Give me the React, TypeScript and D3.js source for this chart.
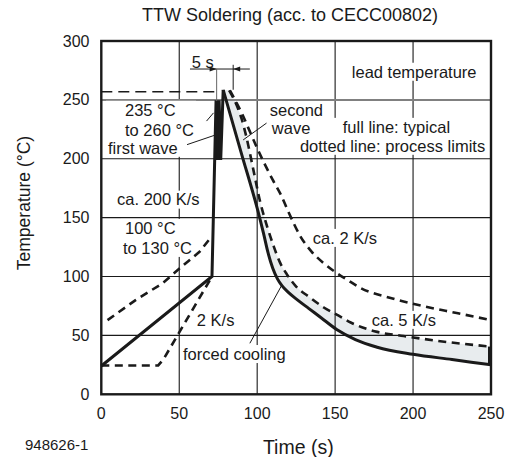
import { useEffect, useRef } from 'react';
import * as d3 from 'd3';

const W = 512;
const H = 457;
const FONT = "'Liberation Sans', Arial, Helvetica, sans-serif";
const INK = '#1a1a1a';

const xTicks = [0, 50, 100, 150, 200, 250];
const yTicks = [0, 50, 100, 150, 200, 250, 300];

// full line: typical profile
const typicalTime = [0, 71, 73.6, 75.6, 76.6, 78.2, 90, 100, 104, 107, 110, 113, 116, 120, 126, 133, 141, 151, 163, 177, 200, 225, 250];
const typicalTemp = [24, 100, 248.5, 248.5, 199, 258.5, 204, 158, 137, 120, 107, 98, 92, 86.5, 80, 73, 65, 55, 46.5, 40, 34, 29.5, 25];
const PEAK_INDEX = 5;
const FIRST_WAVE = [2, 3, 4]; // top-left, top-right, bottom of the first wave

// dotted lines: process limits
const minPreheatTime = [0, 36.5, 40, 71];
const minPreheatTemp = [24.5, 24.5, 30, 100];
const maxPreheatTime = [4, 22, 39, 53, 63, 69];
const maxPreheatTemp = [63, 80, 94, 110, 121, 131];

const minCoolTime = [82, 87, 90, 93, 97.5, 102, 106.5, 110.5, 114.6, 119, 125, 133, 143, 152, 160, 177, 194, 215, 250];
const minCoolTemp = [258, 245, 234, 219, 191, 163, 142, 126, 112, 102, 91.5, 83, 73.5, 67, 61, 53, 49.5, 45.5, 40.5];
const maxCoolTime = [82.5, 90, 96, 100, 105, 110, 115, 120, 128, 135, 143, 151, 158, 166, 185, 206, 228, 250];
const maxCoolTemp = [258, 239, 221, 209, 195, 182, 170, 155, 133.5, 121, 111, 103, 97, 90.5, 82, 75, 69, 63];

// peak limit (long dashes)
const peakLimitTime = [0, 76];
const peakLimitTemp = 257;

// "5 s" dimension marker
const markLeftTime = 74;
const markRightTime = 84.6;
const markTemp = 276.2;
const markLineFrom = 56.9;
const markLineTo = 95.3;
const markLeftBottom = 249;
const markRightTop = 279.8;
const markRightBottom = 258.6;

// annotation texts (lines sharing a group get one white background)
const labelText = ['5 s', '235 °C', 'to 260 °C', 'first wave', 'ca. 200 K/s', '100 °C', 'to 130 °C', '2 K/s', 'forced cooling', 'second', 'wave', 'lead temperature', 'full line: typical', 'dotted line: process limits', 'ca. 2 K/s', 'ca. 5 K/s'];
const labelTime = [58.1, 15.2, 15.2, 4.3, 10.1, 15.2, 13.9, 61.3, 52.4, 108.1, 109.4, 160.7, 154.9, 127.4, 135.7, 173.5];
const labelTemp = [282.4, 241.6, 224.6, 209.3, 165.3, 141.3, 124.3, 63.2, 34.2, 241.4, 225.9, 273.9, 227.1, 211, 132.8, 63.2];
const labelGroup = [0, 1, 1, 1, 2, 3, 3, 4, 5, 6, 6, 7, 8, 8, 9, 10];

// leader lines
const leaderFromTime = [67.5, 55, 106, 95.3];
const leaderFromTemp = [232, 212, 230.3, 43.3];
const leaderToTime = [72, 75, 91, 115.5];
const leaderToTemp = [239, 221, 216, 92];

export default function App() {
  const ref = useRef<SVGSVGElement | null>(null);

  useEffect(() => {
    const svg = d3.select(ref.current);
    svg.selectAll('*').remove();

    const x = d3.scaleLinear().domain([0, 250]).range([101.3, 491]);
    const y = d3.scaleLinear().domain([0, 300]).range([394.3, 41]);

    svg.append('rect').attr('width', W).attr('height', H).attr('fill', '#fff');

    const lin = d3.line<[number, number]>().x((d) => x(d[0])).y((d) => y(d[1])).curve(d3.curveLinear);
    const mono = d3.line<[number, number]>().x((d) => x(d[0])).y((d) => y(d[1])).curve(d3.curveMonotoneX);

    const typical: [number, number][] = typicalTime.map((t, i) => [t, typicalTemp[i]]);
    const rise = typical.slice(0, PEAK_INDEX + 1);
    const decay = typical.slice(PEAK_INDEX);
    const minCool: [number, number][] = minCoolTime.map((t, i) => [t, minCoolTemp[i]]);
    const maxCool: [number, number][] = maxCoolTime.map((t, i) => [t, maxCoolTemp[i]]);
    const minPre: [number, number][] = minPreheatTime.map((t, i) => [t, minPreheatTemp[i]]);
    const maxPre: [number, number][] = maxPreheatTime.map((t, i) => [t, maxPreheatTemp[i]]);

    // shaded band between typical cooling and minimum cooling
    const fillPath = (mono(decay) || '') + (mono(minCool.slice().reverse()) || '').replace(/^M/, 'L') + 'Z';
    svg.append('path').attr('d', fillPath).attr('fill', '#e8ecee').attr('stroke', 'none');

    // grid
    const grid = svg.append('g');
    xTicks.slice(1, -1).forEach((t) => {
      grid.append('line').attr('x1', x(t)).attr('x2', x(t)).attr('y1', y(0)).attr('y2', y(300))
        .attr('stroke', INK).attr('stroke-width', 1.1);
    });
    yTicks.slice(1, -1).forEach((v) => {
      const special = v === 250;
      grid.append('line').attr('x1', x(0)).attr('x2', x(250)).attr('y1', y(v)).attr('y2', y(v))
        .attr('stroke', special ? '#808080' : INK).attr('stroke-width', special ? 2 : 1.1);
    });

    const bgLayer = svg.append('g');
    svg.append('rect')
      .attr('x', x(0)).attr('y', y(300)).attr('width', x(250) - x(0)).attr('height', y(0) - y(300))
      .attr('fill', 'none').attr('stroke', INK).attr('stroke-width', 2.4);
    const curveLayer = svg.append('g');
    const textLayer = svg.append('g').attr('font-family', FONT).attr('fill', INK);

    // limit curves (dotted)
    const dash = (d: string | null, arr = '8,5.5', w = 2.6) =>
      curveLayer.append('path').attr('d', d || '').attr('fill', 'none').attr('stroke', INK)
        .attr('stroke-width', w).attr('stroke-dasharray', arr);
    dash(lin(minPre));
    dash(lin(maxPre));
    dash(mono(minCool));
    dash(mono(maxCool));
    curveLayer.append('line').attr('x1', x(peakLimitTime[0])).attr('x2', x(peakLimitTime[1]))
      .attr('y1', y(peakLimitTemp)).attr('y2', y(peakLimitTemp))
      .attr('stroke', INK).attr('stroke-width', 1.5).attr('stroke-dasharray', '11,6');

    // typical: first-wave block (filled between the rising flank and the first wave drop)
    const [a, b, c] = FIRST_WAVE.map((i) => typical[i]);
    const p0 = typical[1];
    const riseAtBottom = p0[0] + (a[0] - p0[0]) * (c[1] - p0[1]) / (a[1] - p0[1]);
    const block: [number, number][] = [[riseAtBottom, c[1]], a, b, c];
    curveLayer.append('path').attr('d', (lin(block) || '') + 'Z').attr('fill', INK).attr('stroke', 'none');

    curveLayer.append('path').attr('d', lin(rise) || '').attr('fill', 'none').attr('stroke', INK)
      .attr('stroke-width', 3).attr('stroke-linejoin', 'miter');
    curveLayer.append('path').attr('d', mono(decay) || '').attr('fill', 'none').attr('stroke', INK)
      .attr('stroke-width', 3);
    curveLayer.append('line')
      .attr('x1', x(250) - 1.5).attr('x2', x(250) - 1.5)
      .attr('y1', y(typicalTemp[typicalTemp.length - 1])).attr('y2', y(minCoolTemp[minCoolTemp.length - 1]))
      .attr('stroke', INK).attr('stroke-width', 3);

    // 5 s marker
    curveLayer.append('line').attr('x1', x(markLineFrom)).attr('x2', x(markLineTo))
      .attr('y1', y(markTemp)).attr('y2', y(markTemp)).attr('stroke', INK).attr('stroke-width', 1);
    curveLayer.append('line').attr('x1', x(markLeftTime)).attr('x2', x(markLeftTime))
      .attr('y1', y(markTemp)).attr('y2', y(markLeftBottom)).attr('stroke', '#666').attr('stroke-width', 1);
    curveLayer.append('line').attr('x1', x(markRightTime)).attr('x2', x(markRightTime))
      .attr('y1', y(markRightTop)).attr('y2', y(markRightBottom)).attr('stroke', INK).attr('stroke-width', 1);
    const ax = x(markLeftTime), bx = x(markRightTime), my = y(markTemp);
    curveLayer.append('path').attr('d', `M${ax},${my}L${ax - 7},${my - 2.5}L${ax - 7},${my + 2.5}Z`).attr('fill', INK);
    curveLayer.append('path').attr('d', `M${bx},${my}L${bx + 7},${my - 2.5}L${bx + 7},${my + 2.5}Z`).attr('fill', INK);

    // leaders
    leaderFromTime.forEach((t, i) => {
      curveLayer.append('line').attr('x1', x(t)).attr('y1', y(leaderFromTemp[i]))
        .attr('x2', x(leaderToTime[i])).attr('y2', y(leaderToTemp[i]))
        .attr('stroke', INK).attr('stroke-width', 1);
    });

    // annotation labels with white backgrounds per group
    const groups = Array.from(new Set(labelGroup));
    groups.forEach((g) => {
      const idx = labelText.map((_, i) => i).filter((i) => labelGroup[i] === g);
      let x0 = Infinity, x1 = -Infinity;
      idx.forEach((i) => {
        const el = textLayer.append('text').attr('font-size', 16.5)
          .attr('x', x(labelTime[i])).attr('y', y(labelTemp[i])).attr('dy', '0.35em').text(labelText[i]);
        const bb = (el.node() as SVGTextElement).getBBox();
        x0 = Math.min(x0, bb.x);
        x1 = Math.max(x1, bb.x + bb.width);
      });
      const ys = idx.map((i) => y(labelTemp[i]));
      const y0 = Math.min(...ys) - 9;
      const y1 = Math.max(...ys) + 9;
      bgLayer.append('rect').attr('x', x0 - 2).attr('y', y0).attr('width', x1 - x0 + 4).attr('height', y1 - y0).attr('fill', '#fff');
    });

    // ticks
    xTicks.forEach((t) => {
      textLayer.append('text').attr('x', x(t)).attr('y', 413.3).attr('dy', '0.35em')
        .attr('text-anchor', 'middle').attr('font-size', 16).text(String(t));
    });
    yTicks.forEach((v) => {
      textLayer.append('text').attr('x', 89.5).attr('y', y(v)).attr('dy', '0.35em')
        .attr('text-anchor', 'end').attr('font-size', 16).text(String(v));
    });

    // titles
    textLayer.append('text').attr('x', 290).attr('y', 15).attr('dy', '0.35em').attr('text-anchor', 'middle')
      .attr('font-size', 18).text('TTW Soldering (acc. to CECC00802)');
    textLayer.append('text').attr('x', 298.3).attr('y', 446.7).attr('dy', '0.35em').attr('text-anchor', 'middle')
      .attr('font-size', 19.5).text('Time (s)');
    textLayer.append('text').attr('transform', 'translate(24,203) rotate(-90)').attr('dy', '0.35em')
      .attr('text-anchor', 'middle').attr('font-size', 17.5).text('Temperature (°C)');
    textLayer.append('text').attr('x', 25).attr('y', 445).attr('dy', '0.35em')
      .attr('font-size', 15).text('948626-1');
  }, []);

  return <svg ref={ref} width={W} height={H} style={{ position: 'absolute', left: 0, top: 0, background: '#fff' }} />;
}
